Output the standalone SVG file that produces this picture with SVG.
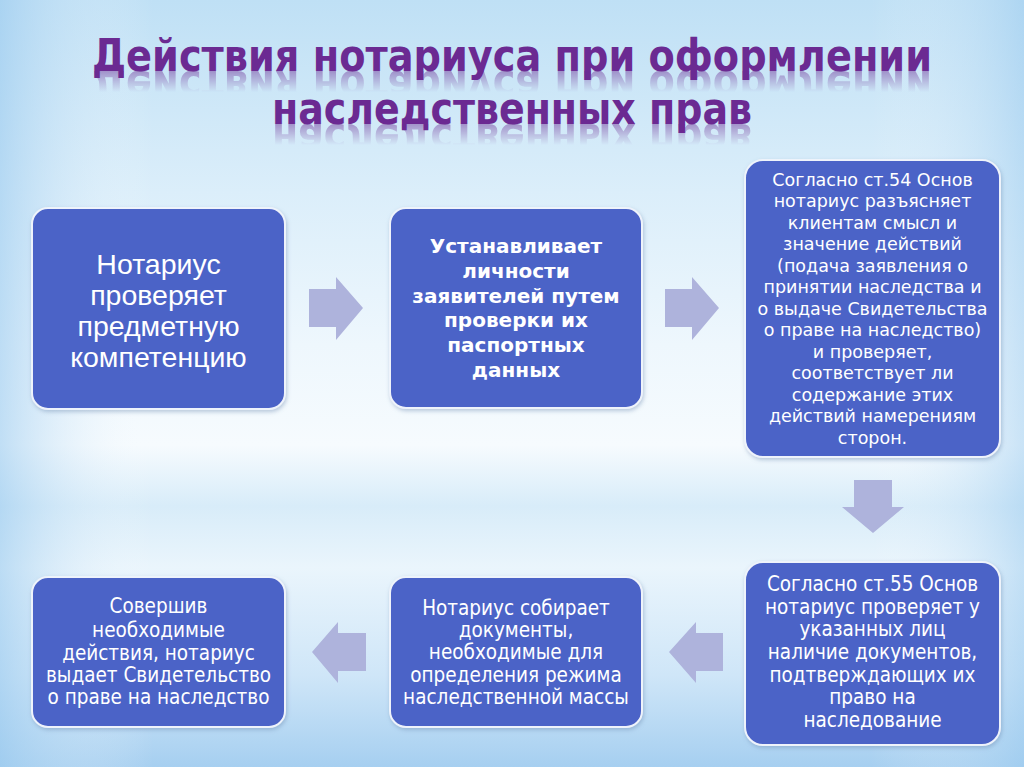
<svg xmlns="http://www.w3.org/2000/svg" xmlns:xlink="http://www.w3.org/1999/xlink" width="1024" height="767" viewBox="0 0 1024 767">
<defs>
<linearGradient id="bg" x1="0" y1="0" x2="0" y2="1">
<stop offset="0" stop-color="#bfe0f5"/>
<stop offset="0.25" stop-color="#dbeefa"/>
<stop offset="0.45" stop-color="#eef7fd"/>
<stop offset="0.58" stop-color="#f6fbfe"/>
<stop offset="0.66" stop-color="#d8ecf9"/>
<stop offset="0.74" stop-color="#eaf5fc"/>
<stop offset="0.88" stop-color="#cfe6f8"/>
<stop offset="1" stop-color="#a6cff0"/>
</linearGradient>
<linearGradient id="side" x1="0" y1="0" x2="1" y2="0">
<stop offset="0" stop-color="#9ccbef" stop-opacity="0.6"/>
<stop offset="0.15" stop-color="#ffffff" stop-opacity="0"/>
<stop offset="0.85" stop-color="#ffffff" stop-opacity="0"/>
<stop offset="1" stop-color="#9ccbef" stop-opacity="0.5"/>
</linearGradient>
<linearGradient id="fade1" gradientUnits="userSpaceOnUse" x1="0" y1="71" x2="0" y2="92">
<stop offset="0" stop-color="#fff" stop-opacity="0.45"/>
<stop offset="1" stop-color="#fff" stop-opacity="0"/>
</linearGradient>
<linearGradient id="fade2" gradientUnits="userSpaceOnUse" x1="0" y1="124" x2="0" y2="145">
<stop offset="0" stop-color="#fff" stop-opacity="0.45"/>
<stop offset="1" stop-color="#fff" stop-opacity="0"/>
</linearGradient>
<mask id="m1" maskUnits="userSpaceOnUse" x="0" y="0" width="1024" height="200">
<rect x="0" y="71" width="1024" height="25" fill="url(#fade1)"/>
</mask>
<mask id="m2" maskUnits="userSpaceOnUse" x="0" y="0" width="1024" height="200">
<rect x="0" y="124" width="1024" height="25" fill="url(#fade2)"/>
</mask>
<filter id="sh" x="-10%" y="-10%" width="120%" height="120%">
<feDropShadow dx="1" dy="2" stdDeviation="2" flood-color="#6a8ab0" flood-opacity="0.45"/>
</filter>
<style>
.box{fill:#4b63c7;stroke:#eef3fb;stroke-width:2;filter:url(#sh)}
.arr{fill:#aeb3dc}
.title{font-family:"DejaVu Sans Condensed","DejaVu Sans","Liberation Sans",sans-serif;font-weight:bold;font-size:45px;fill:#6b2a92;text-anchor:middle}
.t1{font-family:"Liberation Sans","Arial",sans-serif;font-size:28.5px;fill:#fff;text-anchor:middle}
.t2{font-family:"DejaVu Sans","Verdana",sans-serif;font-weight:bold;font-size:20px;fill:#fff;text-anchor:middle}
.t3{font-family:"DejaVu Sans","Verdana",sans-serif;font-size:17.5px;fill:#fff;text-anchor:middle}
.tn{font-family:"Liberation Sans Narrow","DejaVu Sans Condensed","Liberation Sans",sans-serif;font-size:20.5px;fill:#fff;text-anchor:middle}
</style>
</defs>
<rect width="1024" height="767" fill="url(#bg)"/>
<rect width="1024" height="767" fill="url(#side)"/>

<g id="title">
<text id="tl1" class="title" x="512" y="71" textLength="840" lengthAdjust="spacingAndGlyphs">Действия нотариуса при оформлении</text>
<text id="tl2" class="title" x="512" y="124" textLength="480" lengthAdjust="spacingAndGlyphs">наследственных прав</text>
<g mask="url(#m1)"><use xlink:href="#tl1" href="#tl1" transform="translate(0,142) scale(1,-1)"/></g>
<g mask="url(#m2)"><use xlink:href="#tl2" href="#tl2" transform="translate(0,248) scale(1,-1)"/></g>
</g>

<g id="connectors">
<polygon class="arr" points="309,289 336,289 336,277 363,308 336,340 336,327 309,327"/>
<polygon class="arr" points="665,289 692,289 692,277 719,308 692,340 692,327 665,327"/>
<polygon class="arr" points="854,480 892,480 892,507 904,507 873,533 842,507 854,507"/>
<polygon class="arr" points="723,633 696,633 696,622 669,652 696,683 696,671 723,671"/>
<polygon class="arr" points="366,633 338,633 338,622 312,652 338,683 338,671 366,671"/>
</g>

<g id="n1">
<rect class="box" x="32" y="208" width="253" height="201" rx="16"/>
<text class="t1" x="158.5" y="274">Нотариус</text>
<text class="t1" x="158.5" y="305">проверяет</text>
<text class="t1" x="158.5" y="336">предметную</text>
<text class="t1" x="158.5" y="367">компетенцию</text>
</g>

<g id="n2">
<rect class="box" x="390" y="208" width="252" height="200" rx="16"/>
<text class="t2" x="516" y="253">Устанавливает</text>
<text class="t2" x="516" y="278">личности</text>
<text class="t2" x="516" y="303">заявителей путем</text>
<text class="t2" x="516" y="327">проверки их</text>
<text class="t2" x="516" y="352">паспортных</text>
<text class="t2" x="516" y="377">данных</text>
</g>

<g id="n3">
<rect class="box" x="745" y="160" width="255" height="297" rx="18"/>
<text class="t3" x="872.5" y="185.5">Согласно ст.54 Основ</text>
<text class="t3" x="872.5" y="207">нотариус разъясняет</text>
<text class="t3" x="872.5" y="228.5">клиентам  смысл и</text>
<text class="t3" x="872.5" y="250">значение действий</text>
<text class="t3" x="872.5" y="271.5">(подача заявления о</text>
<text class="t3" x="872.5" y="293">принятии наследства и</text>
<text class="t3" x="872.5" y="314.5">о выдаче Свидетельства</text>
<text class="t3" x="872.5" y="336">о праве на наследство)</text>
<text class="t3" x="872.5" y="357.5">и проверяет,</text>
<text class="t3" x="872.5" y="379">соответствует ли</text>
<text class="t3" x="872.5" y="400.5">содержание этих</text>
<text class="t3" x="872.5" y="422">действий намерениям</text>
<text class="t3" x="872.5" y="443.5">сторон.</text>
</g>

<g id="n4">
<rect class="box" x="745" y="562" width="255" height="183" rx="18"/>
<text class="tn" x="872.5" y="591">Согласно ст.55 Основ</text>
<text class="tn" x="872.5" y="613.7">нотариус проверяет у</text>
<text class="tn" x="872.5" y="636.3">указанных лиц</text>
<text class="tn" x="872.5" y="659">наличие документов,</text>
<text class="tn" x="872.5" y="681.7">подтверждающих их</text>
<text class="tn" x="872.5" y="704.3">право на</text>
<text class="tn" x="872.5" y="727">наследование</text>
</g>

<g id="n5">
<rect class="box" x="390" y="577" width="252" height="150" rx="16"/>
<text class="tn" x="516" y="615">Нотариус собирает</text>
<text class="tn" x="516" y="637">документы,</text>
<text class="tn" x="516" y="659">необходимые для</text>
<text class="tn" x="516" y="682">определения режима</text>
<text class="tn" x="516" y="704">наследственной массы</text>
</g>

<g id="n6">
<rect class="box" x="32" y="577" width="253" height="150" rx="16"/>
<text class="tn" x="158.5" y="613">Совершив</text>
<text class="tn" x="158.5" y="637">необходимые</text>
<text class="tn" x="158.5" y="660">действия, нотариус</text>
<text class="tn" x="158.5" y="682">выдает Свидетельство</text>
<text class="tn" x="158.5" y="704">о праве на наследство</text>
</g>
</svg>
